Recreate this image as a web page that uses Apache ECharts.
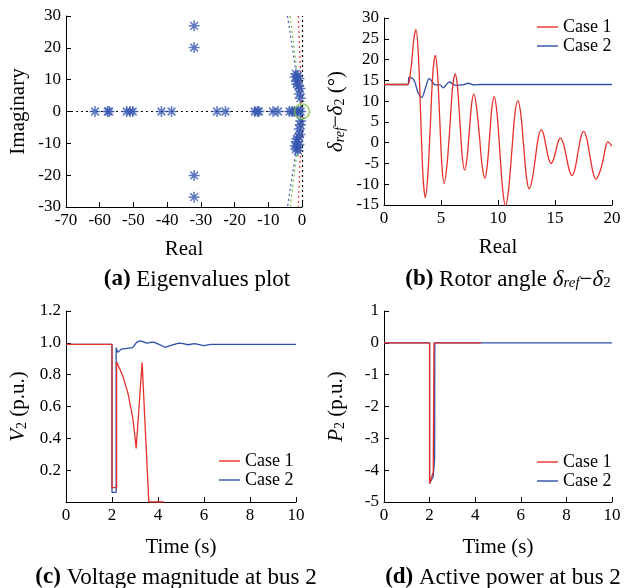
<!DOCTYPE html>
<html><head><meta charset="utf-8">
<script src="https://cdn.jsdelivr.net/npm/echarts@6/dist/echarts.min.js"></script>
<style>html,body{margin:0;padding:0;background:#fff}#c{width:624px;height:588px}</style>
</head><body><div id="c"></div><script>
// ---- (a) eigenvalues ----
const eigRe = [-61.4,-57.6,-57.2,-52,-51,-50.2,-41.7,-38.7,-25.2,-22.7,-14,-13.2,-12.8,-8.6,-7.1,-3.7,-2.9,-2.2,-1.5,-0.9,-0.4,
  -32,-32,-32,-32,
  -1.8,-1.8,-1.3,-1.3,-0.9,-0.9,-1.5,-1.5,-1.0,-1.0,-0.6,-0.6,-0.5,-0.5,-0.8,-0.8,-1.6,-1.6,-2.0,-2.0,-0.4,-1.2];
const eigIm = [0,0,0,0,0,0,0,0,0,0,0,0,0,0,0,0,0,0,0,0,0,
  26.9,-26.9,20.1,-20.1,
  11.8,-11.8,11.2,-11.2,10.4,-10.4,8.6,-8.6,8.0,-8.0,7.2,-7.2,4.2,-4.2,5.5,-5.5,9.5,-9.5,10.8,-10.8,-3.0,-12.3];
const dampBlue = [[-4.3,30],[0,0],[-4.3,-30]];
const dampGreen = [[-3.5,30],[0,0],[-3.5,-30]];
const dampRed = [[-1.1,30],[0,0],[-1.1,-30]];
const originMark = [[0,0]];
const aXTicks = {min:-70,max:0,interval:10};
const aYTicks = {min:-30,max:30,interval:10};

// ---- (b) rotor angle ----
const tB1 = [0,2.07,2.3,2.45,2.62,2.8,3.0,3.21,3.42,3.62,3.84,4.06,4.28,4.5,4.7,4.89,5.08,5.28,5.52,5.77,6.01,6.25,6.45,6.66,6.86,7.07,7.28,7.48,7.68,7.88,8.12,8.37,8.61,8.85,9.05,9.26,9.46,9.66,9.91,10.16,10.41,10.66,10.93,11.2,11.47,11.74,11.99,12.24,12.49,12.73,13.0,13.26,13.52,13.78,14.0,14.22,14.44,14.66,14.86,15.07,15.27,15.47,15.73,16.0,16.25,16.5,16.75,17.0,17.25,17.5,17.78,18.05,18.33,18.6,18.9,19.2,19.4,19.62,20];
const dB1 = [14,14,16.5,20,25,27.2,22,7,-8,-13.2,-8,3.9,16.5,21,16.5,5.6,-5.5,-9.8,-5.5,3.4,13,16.6,13.3,5,-3.2,-6.6,-3.8,2.6,9.1,11.75,8.5,1.6,-5.6,-8.6,-5.7,1.3,8.3,11.1,7.2,-2,-11.3,-15.2,-11.3,-2.5,6.6,10.1,7.1,-0.5,-8.1,-11.1,-8.9,-4,1.0,3.1,2.0,-1,-3.8,-5,-4.1,-2,0.2,1.1,-0.2,-3.4,-6.6,-7.9,-6.3,-2.6,1.1,2.7,1.1,-3,-7.1,-8.8,-7.3,-4.4,-1.6,0.2,-0.8];
const tB2 = [0,2.1,2.2,2.5,2.7,3.0,3.3,3.65,3.97,4.25,4.5,4.9,5.2,5.45,5.72,6.0,6.3,6.9,7.4,7.9,8.5,20];
const dB2 = [14,14,15.7,15.5,14.6,12,10.9,13.3,15.4,14.6,13.9,13.9,13.2,13.9,14.6,14.2,13.8,13.9,14.3,13.9,14,14];

// ---- (c) voltage ----
const tC1 = [0,2.0,2.0,2.2,2.2,2.45,2.7,2.9,3.0,3.05,3.31,3.45,3.6,4.25];
const vC1 = [0.99,0.99,0.09,0.09,0.88,0.8,0.68,0.53,0.41,0.336,0.877,0.45,0,0];
const tC2 = [0,2.0,2.0,2.18,2.18,2.25,2.4,2.9,3.05,3.2,3.35,3.5,3.65,3.8,4.05,4.3,4.6,4.9,5.1,5.3,5.6,6.0,6.3,7.0,10];
const vC2 = [0.99,0.99,0.06,0.06,0.97,0.94,0.96,0.97,1.0,1.013,1.008,0.998,1.002,1.005,0.99,0.972,0.985,0.998,0.995,0.988,0.995,0.982,0.99,0.99,0.99];

// ---- (d) active power ----
const tD1 = [0,2.0,2.0,2.16,2.19,4.25];
const pD1 = [0,0,-4.42,-4.06,0,0];
const tD2 = [0,2.0,2.0,2.16,2.22,2.23,10];
const pD2 = [0,0,-4.42,-4.2,-3.64,0,0];

const seriesNames = ['Case 1','Case 2'];
const panelTitles = [
  '{b|(a)} Eigenvalues plot',
  '{b|(b)} Rotor angle {i|δ}{s|ref}{n|−}{i|δ}{u|2}',
  '{b|(c)} Voltage magnitude at bus 2',
  '{b|(d)} Active power at bus 2'
];
const yNames = ['Imaginary','{i|δ}{s|ref}{n|−}{i|δ}{u|2} (°)','{i|V}{u|2} (p.u.)','{i|P}{u|2} (p.u.)'];
const xNames = ['Real','Real','Time (s)','Time (s)'];

const FF = 'Liberation Serif';
const RED = '#e8302a', BLUE = '#2f4fa8', EIG = '#3556b0';
const zip = (a,b) => a.map((v,i)=>[v,b[i]]);

function richFor(size){
  return {
    b:{fontFamily:FF,fontSize:size,fontWeight:'bold',color:'#000'},
    i:{fontFamily:FF,fontSize:size,fontStyle:'italic',color:'#000'},
    n:{fontFamily:FF,fontSize:size,color:'#000'},
    s:{fontFamily:FF,fontSize:Math.round(size*0.65),fontStyle:'italic',color:'#000',verticalAlign:'bottom',lineHeight:Math.round(size*0.65)},
    u:{fontFamily:FF,fontSize:Math.round(size*0.65),color:'#000',verticalAlign:'bottom',lineHeight:Math.round(size*0.65)}
  };
}

const grids = [
  {left:66, right:322, top:16, bottom:381},
  {left:384, right:12, top:18, bottom:383},
  {left:66, right:328, top:311, bottom:86},
  {left:384, right:12, top:311, bottom:86}
];

function xAx(g, t, gap){
  return {type:'value', gridIndex:g, min:t.min, max:t.max, interval:t.interval,
    name:xNames[g], nameLocation:'middle', nameGap:gap,
    nameTextStyle:{fontFamily:FF,fontSize:21,color:'#000'},
    axisLine:{onZero:false,lineStyle:{color:'#000',width:1}},
    axisTick:{inside:true,length:5,lineStyle:{color:'#000'}},
    axisLabel:{fontFamily:FF,fontSize:17,color:'#000',margin:5},
    splitLine:{show:false}};
}
function yAx(g, t, extra){
  return Object.assign({type:'value', gridIndex:g, min:t.min, max:t.max, interval:t.interval,
    name:yNames[g], nameLocation:'middle', nameGap:37,
    nameTextStyle:{fontFamily:FF,fontSize:21,color:'#000',rich:richFor(21)},
    axisLine:{onZero:false,lineStyle:{color:'#000',width:1}},
    axisTick:{inside:true,length:5,lineStyle:{color:'#000'}},
    axisLabel:{fontFamily:FF,fontSize:17,color:'#000',margin:5},
    splitLine:{show:false}}, extra||{});
}

function lineS(name, xi, data, color, smooth, z){
  return {type:'line', name, xAxisIndex:xi, yAxisIndex:xi, data, symbol:'none', showSymbol:false,
    smooth:smooth||false, lineStyle:{color, width:1.3}, itemStyle:{color}, z:z||2, animation:false};
}
function dampS(data, color){
  return {type:'line', xAxisIndex:0, yAxisIndex:0, data, symbol:'none', silent:true,
    lineStyle:{color, width:1.2, type:[2,3]}, z:1, animation:false};
}

const legendBase = {orient:'vertical', icon:'rect', itemWidth:21, itemHeight:1.4, itemGap:1, data:seriesNames,
  textStyle:{fontFamily:FF,fontSize:18,color:'#000'}};

const option = {
  backgroundColor:'#fff',
  animation:false,
  title: [
    {left:192, top:263},
    {left:503, top:263},
    {left:171, top:561},
    {left:498, top:561}
  ].map((p,i)=>({text:panelTitles[i], left:p.left, top:p.top, textAlign:'center',
      textStyle:{fontFamily:FF,fontSize:23,fontWeight:'normal',color:'#000',rich:richFor(23)}})),
  grid: grids,
  legend: [
    Object.assign({}, legendBase, {left:532, top:13}),
    Object.assign({}, legendBase, {left:214, top:447}),
    Object.assign({}, legendBase, {left:532, top:448})
  ],
  xAxis: [
    xAx(0, aXTicks, 32),
    xAx(1, {min:0,max:20,interval:5}, 32),
    xAx(2, {min:0,max:10,interval:2}, 35),
    xAx(3, {min:0,max:10,interval:2}, 35)
  ],
  yAxis: [
    yAx(0, aYTicks),
    yAx(1, {min:-15,max:30,interval:5}),
    yAx(2, {min:0,max:1.2,interval:0.2}, {axisLabel:{fontFamily:FF,fontSize:17,color:'#000',margin:5,showMinLabel:false,formatter:v=>v.toFixed(1)}}),
    yAx(3, {min:-5,max:1,interval:1})
  ],
  series: [
    dampS(dampBlue, '#3c5fc0'),
    dampS(dampGreen, '#7ac143'),
    dampS(dampRed, '#e8302a'),
    {type:'line', xAxisIndex:0, yAxisIndex:0, data:[], symbol:'none', silent:true,
      markLine:{symbol:'none', silent:true, label:{show:false}, animation:false,
        lineStyle:{color:'#000', width:1.2, type:[2,3]}, data:[{yAxis:0},{xAxis:0}]}},
    {type:'scatter', xAxisIndex:0, yAxisIndex:0, data:zip(eigRe, eigIm), z:5, animation:false,
      symbol:'path://M10,0L10,20M0,10L20,10M3,3L17,17M3,17L17,3', symbolSize:11,
      itemStyle:{color:'rgba(0,0,0,0)', borderColor:EIG, borderWidth:1.5}},
    {type:'scatter', xAxisIndex:0, yAxisIndex:0, data:originMark, z:6, animation:false,
      symbol:'circle', symbolSize:15, itemStyle:{color:'rgba(0,0,0,0)', borderColor:'#7ac143', borderWidth:1.6}},

    lineS('Case 2', 1, zip(tB2, dB2), BLUE, 0.4, 2),
    lineS('Case 1', 1, zip(tB1, dB1), RED, 0.3, 3),

    lineS('Case 2', 2, zip(tC2, vC2), BLUE, false, 2),
    lineS('Case 1', 2, zip(tC1, vC1), RED, false, 3),

    lineS('Case 2', 3, zip(tD2, pD2), BLUE, false, 2),
    lineS('Case 1', 3, zip(tD1, pD1), RED, false, 3)
  ]
};
const chart = echarts.init(document.getElementById('c'), null, {renderer:'canvas'});
chart.setOption(option);
</script></body></html>
